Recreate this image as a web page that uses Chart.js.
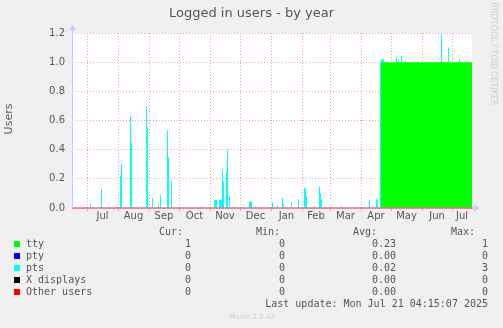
<!DOCTYPE html>
<html>
<head>
<meta charset="utf-8">
<script src="https://cdn.jsdelivr.net/npm/chart.js@4/dist/chart.umd.min.js"></script>
<style>
html, body { margin: 0; padding: 0; background: #f0f0f0; }
canvas { display: block; }
</style>
</head>
<body>
<canvas id="users-chart" width="503" height="328"></canvas>
<script>
// days counted from Jun 16 2024 (day 0) to Jul 20 2025 (day 400)
const dayCount = 400;
const monthLabels = ['Jul','Aug','Sep','Oct','Nov','Dec','Jan','Feb','Mar','Apr','May','Jun','Jul'];
const monthStarts = [15,46,77,107,138,168,199,230,258,289,319,350,380];
const monthMids = [30.5,61.5,92,122.5,153,183.5,214.5,244,273.5,304,334.5,365,390];

const yTicks = [0,0.1,0.2,0.3,0.4,0.5,0.6,0.7,0.8,0.9,1.0,1.1,1.2];

// tty: 0 until day 310, then 1
const ttyDays = [0, 310];
const ttyValues = [0, 1];

// pts spikes (stacked on tty)
const ptsDays = [19,30,49,50,59,60,75,76,81,87,89,96,97,100,130,143,144,145,148,149,150,151,152,155,156,158,162,
  178,179,180,184,201,206,211,212,220,227,233,234,235,248,249,250,270,298,305,306,309,
  310,311,312,325,327,330,334,370,377,388];
const ptsValues = [0.03,0.13,0.22,0.30,0.63,0.45,0.70,0.55,0.07,0.025,0.09,0.53,0.35,0.19,0.01,0.055,0.055,0.055,0.055,0.055,0.055,0.26,0.18,0.25,0.40,0.08,0.01,
  0.045,0.045,0.045,0.01,0.04,0.02,0.07,0.025,0.04,0.06,0.14,0.13,0.08,0.15,0.10,0.057,0.016,0.057,0.064,0.05,1.0,
  0.02,0.02,0.02,0.035,0.02,0.04,0.01,0.19,0.1,0.02];

const seriesNames = ['tty','pty','pts','X displays','Other users'];
const seriesColors = ['#00ff00','#0000ff','#00ffff','#000000','#ff0000'];
const curVals = ['1','0','0','0','0'];
const minVals = ['0','0','0','0','0'];
const avgVals = ['0.23','0.00','0.02','0.00','0.00'];
const maxVals = ['1','0','3','0','0'];

function stepSeries(days, values) {
  const out = [];
  let k = 0, cur = 0;
  for (let d = 0; d <= dayCount; d++) {
    while (k < days.length && days[k] <= d) { cur = values[k]; k++; }
    out.push({ x: d, y: cur });
  }
  return out;
}
function spikeSeries(days, values) {
  const out = [];
  for (let d = 0; d <= dayCount; d++) out.push({ x: d, y: 0 });
  days.forEach((d, i) => { out[d].y = values[i]; });
  return out;
}

const series = [
  stepSeries(ttyDays, ttyValues),
  stepSeries([0], [0]),
  spikeSeries(ptsDays, ptsValues),
  stepSeries([0], [0]),
  stepSeries([0], [0])
];

const textColor = '#555555';
const gridColor = '#f0a0a0';

const munin = {
  id: 'munin',
  beforeDraw(chart) {
    const ctx = chart.ctx, a = chart.chartArea;
    ctx.save();
    ctx.fillStyle = '#f0f0f0';
    ctx.fillRect(0, 0, chart.width, chart.height);
    ctx.fillStyle = '#ffffff';
    ctx.fillRect(a.left, a.top, a.right - a.left, a.bottom - a.top);
    ctx.restore();
  },
  afterDraw(chart) {
    const ctx = chart.ctx, a = chart.chartArea, xs = chart.scales.x;
    ctx.save();
    // zero line
    ctx.strokeStyle = '#e87080';
    ctx.lineWidth = 1.5;
    ctx.beginPath(); ctx.moveTo(a.left, a.bottom); ctx.lineTo(a.right + 1, a.bottom); ctx.stroke();
    // axes and arrows
    ctx.strokeStyle = '#c8c8ff'; ctx.fillStyle = '#c8c8ff'; ctx.lineWidth = 1;
    ctx.beginPath(); ctx.moveTo(a.left + 0.5, a.bottom); ctx.lineTo(a.left + 0.5, a.top - 4); ctx.stroke();
    ctx.beginPath(); ctx.moveTo(a.left - 3, a.top - 3); ctx.lineTo(a.left + 4, a.top - 3); ctx.lineTo(a.left + 0.5, a.top - 8); ctx.closePath(); ctx.fill();
    ctx.beginPath(); ctx.moveTo(a.right + 2, a.bottom - 3.5); ctx.lineTo(a.right + 2, a.bottom + 3.5); ctx.lineTo(a.right + 8, a.bottom); ctx.closePath(); ctx.fill();

    // month labels
    ctx.fillStyle = textColor;
    ctx.font = '10px "DejaVu Sans"';
    ctx.textAlign = 'center'; ctx.textBaseline = 'middle';
    monthMids.forEach((d, i) => ctx.fillText(monthLabels[i], xs.getPixelForValue(d), 216));

    // title
    ctx.font = '13px "DejaVu Sans"';
    ctx.fillText('Logged in users - by year', 251.5, 14);
    // y title
    ctx.save();
    ctx.translate(9, 119); ctx.rotate(-Math.PI / 2);
    ctx.font = '11px "DejaVu Sans"';
    ctx.fillText('Users', 0, 0);
    ctx.restore();
    // side text
    ctx.save();
    ctx.translate(493, 54); ctx.rotate(Math.PI / 2);
    ctx.fillStyle = '#cccccc';
    ctx.font = '8px "DejaVu Sans"';
    ctx.fillText('RRDTOOL / TOBI OETIKER', 0, 0);
    ctx.restore();

    // legend table
    ctx.font = '10px "DejaVu Sans Mono"';
    ctx.textAlign = 'right';
    ctx.fillText('Cur:', 183, 232);
    ctx.fillText('Min:', 280, 232);
    ctx.fillText('Avg:', 377, 232);
    ctx.fillText('Max:', 475, 232);
    seriesNames.forEach((name, i) => {
      const y = 244 + i * 12;
      ctx.fillStyle = seriesColors[i];
      ctx.fillRect(14, y - 3, 6, 6);
      ctx.fillStyle = textColor;
      ctx.textAlign = 'left';
      ctx.fillText(name, 26, y);
      ctx.textAlign = 'right';
      ctx.fillText(curVals[i], 191, y);
      ctx.fillText(minVals[i], 285, y);
      ctx.fillText(avgVals[i], 396, y);
      ctx.fillText(maxVals[i], 488, y);
    });
    ctx.fillText('Last update: Mon Jul 21 04:15:07 2025', 488, 304);
    ctx.textAlign = 'center';
    ctx.fillStyle = '#cccccc';
    ctx.font = '7px "DejaVu Sans"';
    ctx.fillText('Munin 2.0.42', 252, 317);
    ctx.restore();
  }
};

new Chart(document.getElementById('users-chart'), {
  type: 'line',
  data: {
    datasets: seriesNames.map((name, i) => ({
      label: name,
      data: series[i],
      backgroundColor: seriesColors[i],
      borderColor: 'rgba(0,0,0,0)',
      borderWidth: 0,
      pointRadius: 0,
      stepped: 'after',
      fill: i === 0 ? 'origin' : (i === 2 ? '-1' : false)
    }))
  },
  options: {
    responsive: false,
    animation: false,
    layout: { padding: { left: 0, top: 33, right: 31, bottom: 120 } },
    plugins: { legend: { display: false }, tooltip: { enabled: false } },
    scales: {
      x: {
        type: 'linear', min: 0, max: dayCount,
        afterBuildTicks: s => { s.ticks = monthStarts.map(v => ({ value: v })); },
        afterFit: s => { s.height = 0; },
        ticks: { display: false },
        grid: { color: gridColor, drawTicks: true, tickLength: 3 },
        border: { display: false, dash: [1, 2] }
      },
      y: {
        stacked: true, min: 0, max: 1.2,
        afterBuildTicks: s => { s.ticks = yTicks.map(v => ({ value: v })); },
        afterFit: s => { s.width = 72; },
        ticks: {
          padding: 7, color: textColor, font: { family: 'DejaVu Sans', size: 10 },
          callback: v => v.toFixed(1)
        },
        grid: { color: gridColor, drawTicks: false },
        border: { display: false, dash: [1, 2] }
      }
    }
  },
  plugins: [munin]
});
</script>
</body>
</html>
